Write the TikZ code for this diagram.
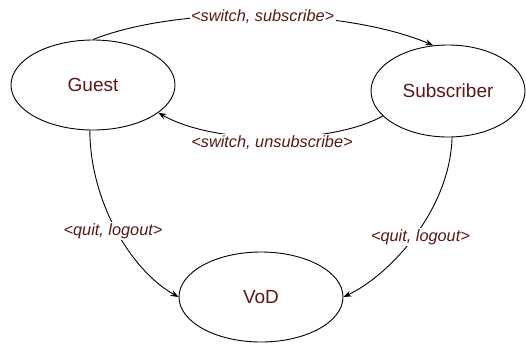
\documentclass[tikz,border=0pt]{standalone}
\usepackage{fontspec}
\setmainfont{Liberation Sans}
\usetikzlibrary{shapes.geometric,arrows.meta}
\definecolor{txt}{RGB}{92,22,22}
\begin{document}
\begin{tikzpicture}[x=1pt,y=-1pt,
  state/.style={draw=black,line width=0.9pt,ellipse,inner sep=0pt,text=txt,font=\fontsize{19}{22}\selectfont},
  lab/.style={fill=white,inner sep=1.5pt,text=txt,font=\fontsize{16.3}{19}\selectfont\itshape},
  conn/.style={draw=black,line width=0.9pt,-{Stealth[length=8pt,width=6pt]}}]
\useasboundingbox (0,0) rectangle (526,343);
\node[state,minimum width=164pt,minimum height=90pt] (g) at (93,85) {Guest};
\node[state,minimum width=154pt,minimum height=92pt] (s) at (448,91) {Subscriber};
\node[state,minimum width=164pt,minimum height=90pt] (v) at (261,297) {VoD};
\draw[conn] (g.north) .. controls (180,5) and (345,8) .. (s.108)
  node[lab,pos=0.5,yshift=-1.5pt] (l1) {<switch, subscribe>};
\draw[conn] (s.201) .. controls (330,145) and (215,145) .. (g.-23)
  node[lab,pos=0.5,yshift=-5pt] (l2) {<switch, unsubscribe>};
\draw[conn] (g.266) .. controls (90,200) and (130,270) .. (v.west)
  node[lab,pos=0.5,xshift=-3pt,yshift=-1.5pt] (l3) {<quit, logout>};
\draw[conn] (s.275) .. controls (450,210) and (390,275) .. (v.east)
  node[lab,pos=0.5,xshift=6pt,yshift=-1pt] (l4) {<quit, logout>};
\end{tikzpicture}
\end{document}
